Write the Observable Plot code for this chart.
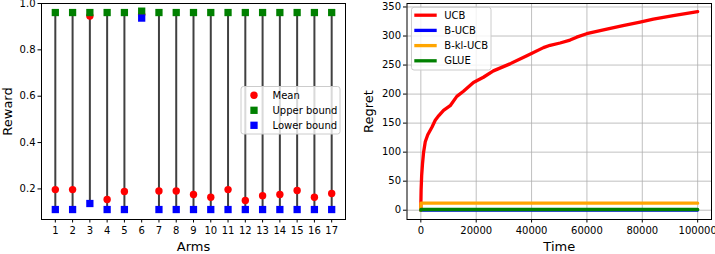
<!DOCTYPE html>
<html><head><meta charset="utf-8">
<script src="https://cdn.jsdelivr.net/npm/d3@7"></script>
<script src="https://cdn.jsdelivr.net/npm/@observablehq/plot@0.6"></script>
<style>
body{margin:0;background:#fff;font-family:"DejaVu Sans",sans-serif;}
#wrap{position:relative;width:715px;height:254px;overflow:hidden;background:#fff;}
#left{position:absolute;left:0;top:0;}
#right{position:absolute;left:355px;top:0;}
#overlay{position:absolute;left:0;top:0;pointer-events:none;}
svg{overflow:visible;}
</style></head><body>
<div id="wrap"><div id="left"></div><div id="right"></div><svg id="overlay" width="715" height="254"></svg></div>
<script>
// ---- Left panel data ----
const arms = [1,2,3,4,5,6,7,8,9,10,11,12,13,14,15,16,17];
const means = [0.197,0.197,0.946,0.154,0.189,0.952,0.191,0.191,0.176,0.164,0.197,0.150,0.171,0.176,0.193,0.164,0.180];
const upper = [0.961,0.961,0.961,0.961,0.961,0.967,0.961,0.961,0.961,0.961,0.961,0.961,0.961,0.961,0.961,0.961,0.961];
const lower = [0.111,0.111,0.137,0.111,0.111,0.937,0.111,0.111,0.111,0.111,0.111,0.111,0.111,0.111,0.111,0.111,0.111];
const rewardTicks = [0.2,0.4,0.6,0.8,1.0];

// ---- Right panel data ----
const ucbTime   = [0,20,100,300,600,1000,1600,2500,4000,5200,6500,8200,10600,13000,15400,19000,22600,26200,32200,38300,44300,46700,50300,53900,56300,59900,67200,73000,79200,84000,91200,100000];
const ucbRegret = [0,12,35,60,80,100,118,130,143,155,163,172,180,196,205,220,229,240,252,266,280,284,288,293,298,304,312,318,324,329,335,342];
const bucbTime = [0,20,100000];
const bucbRegret = [0,0.3,0.3];
const bklTime = [0,30,100000];
const bklRegret = [0,12.1,12.1];
const glueTime = [0,20,100000];
const glueRegret = [0,1.2,1.2];
const timeTicks = [0,20000,40000,60000,80000,100000];
const regretTicks = [0,50,100,150,200,250,300,350];

const seriesNames = ["UCB","B-UCB","B-kl-UCB","GLUE"];
const seriesColors = ["red","blue","orange","green"];
const legend1Labels = ["Mean","Upper bound","Lower bound"];
const legend1Colors = ["red","green","blue"];

const rows = arms.map((a,i)=>({arm:a, mean:means[i], upper:upper[i], lower:lower[i]}));
const mk = (T,R,name)=>T.map((t,i)=>({t, r:R[i], s:name}));
const lines = [
  mk(ucbTime,ucbRegret,"UCB"),
  mk(bucbTime,bucbRegret,"B-UCB"),
  mk(bklTime,bklRegret,"B-kl-UCB"),
  mk(glueTime,glueRegret,"GLUE")
];

const baseStyle = {fontFamily:"DejaVu Sans", fontSize:"10px", color:"black", background:"transparent", overflow:"visible"};
const labelOpts = {text:d=>d, fontSize:13, lineAnchor:"middle", textAnchor:"middle", fill:"black"};

const left = Plot.plot({
  width:355, height:254, marginLeft:41, marginRight:10, marginTop:3, marginBottom:35,
  style: baseStyle,
  x:{domain:[0.2,17.8]},
  y:{domain:[0.068,1.0]},
  marks:[
    Plot.ruleX(rows,{x:"arm", y1:"lower", y2:"upper", stroke:"#404040", strokeWidth:2}),
    Plot.dot(rows,{x:"arm", y:"mean", r:3.7, fill:"red", symbol:"circle"}),
    Plot.dot(rows,{x:"arm", y:"upper", r:4.1, fill:"green", symbol:"square"}),
    Plot.dot(rows,{x:"arm", y:"lower", r:4.1, fill:"blue", symbol:"square"}),
    Plot.axisX({ticks:arms, tickFormat:d=>String(d), tickSize:3.5, tickPadding:3.5, label:null}),
    Plot.axisY({ticks:rewardTicks, tickFormat:d3.format(".1f"), tickSize:3.5, tickPadding:2.5, label:null}),
    Plot.frame({stroke:"black"}),
    Plot.text(["Arms"],{frameAnchor:"bottom", dy:27.5, ...labelOpts}),
    Plot.text(["Reward"],{frameAnchor:"left", dx:-34, rotate:-90, ...labelOpts})
  ]
});
document.getElementById("left").append(left);

const right = Plot.plot({
  width:360, height:254, marginLeft:51.5, marginRight:4, marginTop:3, marginBottom:35,
  style: baseStyle,
  x:{domain:[-5000,105000]},
  y:{domain:[-16,356]},
  marks:[
    Plot.gridX({ticks:timeTicks, stroke:"#b0b0b0", strokeOpacity:1, strokeWidth:0.8}),
    Plot.gridY({ticks:regretTicks, stroke:"#b0b0b0", strokeOpacity:1, strokeWidth:0.8}),
    ...lines.map((d,i)=>Plot.line(d,{x:"t", y:"r", stroke:seriesColors[i], strokeWidth:3.3})),
    Plot.axisX({ticks:timeTicks, tickFormat:d3.format("d"), tickSize:3.5, tickPadding:3.5, label:null}),
    Plot.axisY({ticks:regretTicks, tickFormat:d3.format("d"), tickSize:3.5, tickPadding:2.5, label:null}),
    Plot.frame({stroke:"black"}),
    Plot.text(["Time"],{frameAnchor:"bottom", dy:27, ...labelOpts}),
    Plot.text(["Regret"],{frameAnchor:"left", dx:-38, rotate:-90, ...labelOpts})
  ]
});
document.getElementById("right").append(right);

// ---- Legends ----
const ov = d3.select("#overlay").style("font-family","DejaVu Sans").style("font-size","10px");
// legend 1
const g1 = ov.append("g");
g1.append("rect").attr("x",241).attr("y",86.5).attr("width",99).attr("height",47.5).attr("rx",2.5)
  .attr("fill","white").attr("fill-opacity",0.8).attr("stroke","#cccccc");
legend1Labels.forEach((lab,i)=>{
  const y = 95.3 + i*15;
  if(i===0) g1.append("circle").attr("cx",254).attr("cy",y).attr("r",3.7).attr("fill",legend1Colors[i]);
  else g1.append("rect").attr("x",254-3.65).attr("y",y-3.65).attr("width",7.3).attr("height",7.3).attr("fill",legend1Colors[i]);
  g1.append("text").attr("x",272.5).attr("y",y).attr("dy","0.35em").attr("fill","black").text(lab);
});
// legend 2
const g2 = ov.append("g");
g2.append("rect").attr("x",411.5).attr("y",7.3).attr("width",79.5).attr("height",62.7).attr("rx",2.5)
  .attr("fill","white").attr("fill-opacity",0.8).attr("stroke","#cccccc");
seriesNames.forEach((lab,i)=>{
  const y = 15.2 + i*15.2;
  g2.append("line").attr("x1",414.3).attr("x2",436.7).attr("y1",y).attr("y2",y).attr("stroke",seriesColors[i]).attr("stroke-width",3.3);
  g2.append("text").attr("x",444.3).attr("y",y).attr("dy","0.35em").attr("fill","black").text(lab);
});
</script>
</body></html>
